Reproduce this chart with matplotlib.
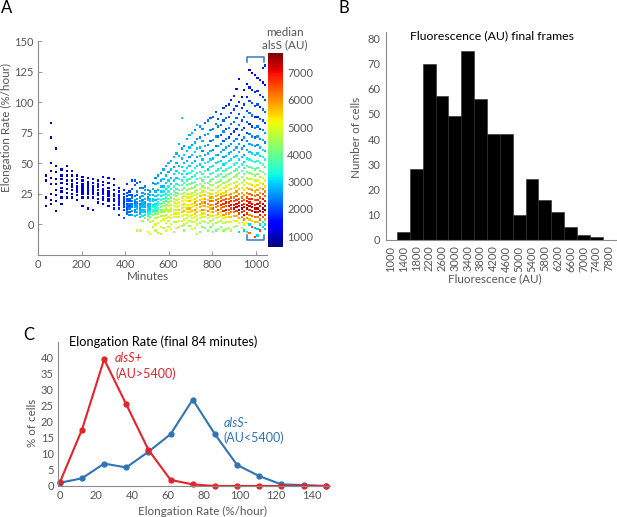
import numpy as np
import matplotlib
matplotlib.use("Agg")
import matplotlib.pyplot as plt

plt.rcParams['font.family'] = ['Lato', 'DejaVu Sans']

W, H = 617, 517
GRAY = '#555555'
SPINE = '#8a8a8a'
TICK_FS = 8.0
LAB_FS = 8.4

# ---- panel A: elongation rate per cell over time, coloured by median alsS (hundreds of AU)
col_minutes = [36, 60, 84, 108, 132, 156, 180, 204, 228, 252, 276, 300, 324, 348,
               372, 396, 408, 420, 432, 444, 456, 468, 480, 492, 504, 516, 528, 540,
               552, 564, 576, 588, 600, 612, 624, 636, 648, 660, 672, 684, 696, 708,
               720, 732, 744, 756, 768, 780, 792, 804, 816, 828, 840, 852, 864, 876,
               888, 900, 912, 924, 936, 948, 960, 972, 984, 996, 1008, 1020, 1032, 1044]
col_rates = [
    [40, 36, 22, 15],
    [83, 71, 50, 44, 38, 33, 25, 20, 17],
    [62, 48, 43, 37, 33, 28, 24, 19, 11],
    [45, 40, 37, 34, 30, 27, 22, 17],
    [48, 44, 40, 36, 33, 29, 26, 22],
    [44, 40, 36, 33, 31, 28, 25, 22],
    [40, 37, 34, 31, 29, 27, 24, 20],
    [39, 36, 33, 31, 29, 27, 25, 22, 15],
    [38, 35, 33, 31, 29, 27, 25, 22, 13],
    [37, 34, 31, 29, 27, 25, 22, 12],
    [36, 33, 31, 28, 26, 24, 21, 18],
    [39, 35, 32, 29, 27, 25, 22, 20, 17],
    [38, 34, 30, 27, 25, 23, 21, 19, 15],
    [37, 32, 28, 25, 23, 21, 19, 16, 13],
    [30, 27, 24, 22, 20, 18, 16, 13, 8],
    [28, 25, 22, 20, 18, 16, 14, 12, 5],
    [33, 26, 23, 21, 19, 17, 15, 13, 11, 9],
    [27, 24, 21, 19, 17, 15, 13, 10, 8],
    [36, 29, 24, 22, 19, 17, 16, 14, 11, 8],
    [36, 32, 23, 20, 18, 16, 14, 12, 10, 7],
    [34, 27, 24, 21, 18, 16, 15, 13, 10, 8, -5],
    [35, 30, 22, 19, 17, 15, 13, 11, 9, 6, -5],
    [30, 26, 23, 20, 18, 16, 14, 12, 10, 7, 3],
    [31, 28, 25, 21, 18, 16, 14, 12, 10, 8, 5],
    [28, 25, 22, 20, 17, 15, 13, 11, 9, 7, 4, -6],
    [27, 24, 21, 19, 17, 15, 13, 11, 9, 6, 2, -8],
    [34, 29, 24, 21, 19, 16, 14, 12, 10, 8, 3, -2],
    [38, 33, 27, 23, 20, 17, 15, 13, 11, 9, 5, 0, -5],
    [40, 34, 28, 24, 21, 18, 16, 13, 11, 9, 6, 1, -7],
    [42, 36, 31, 27, 23, 20, 17, 14, 12, 10, 7, 3, -2, -8],
    [45, 37, 31, 27, 24, 21, 18, 15, 12, 10, 7, 4, -3],
    [48, 40, 34, 29, 25, 22, 19, 16, 13, 11, 8, 5, 1, -5],
    [50, 43, 36, 31, 27, 24, 21, 18, 15, 12, 10, 6, 3, -2],
    [52, 45, 38, 33, 29, 25, 22, 19, 16, 13, 11, 8, 5, 0, -4],
    [55, 47, 41, 36, 31, 27, 24, 21, 18, 15, 12, 9, 6, 2, -6],
    [58, 50, 44, 38, 33, 29, 26, 23, 20, 17, 14, 12, 9, 6, 2, -3],
    [66, 56, 48, 42, 37, 32, 28, 25, 21, 18, 15, 12, 9, 6, 3, -2],
    [87, 62, 54, 47, 41, 36, 32, 28, 25, 22, 19, 16, 13, 10, 7, 3, -1],
    [64, 57, 50, 44, 39, 34, 30, 26, 23, 20, 17, 14, 11, 8, 4, 0, -5],
    [70, 60, 52, 46, 41, 36, 32, 28, 25, 22, 19, 16, 13, 10, 8, 5, 1],
    [73, 63, 55, 48, 42, 37, 33, 29, 25, 22, 19, 16, 13, 10, 7, 3, -1],
    [75, 65, 57, 50, 44, 39, 34, 30, 26, 23, 20, 17, 14, 11, 8, 5, 2, -4],
    [77, 67, 59, 52, 46, 40, 35, 31, 27, 24, 21, 18, 15, 12, 9, 6, 2, -3],
    [81, 70, 62, 55, 48, 42, 37, 32, 28, 25, 22, 19, 16, 13, 10, 7, 4, 0, -8],
    [80, 71, 63, 56, 49, 43, 38, 33, 29, 26, 23, 20, 17, 14, 11, 8, 5, 1, -6],
    [78, 68, 60, 53, 47, 41, 36, 31, 27, 24, 21, 18, 15, 12, 9, 6, 3, -2],
    [83, 73, 64, 57, 50, 44, 39, 34, 30, 27, 24, 21, 18, 15, 12, 9, 6, 2, -3],
    [85, 74, 65, 58, 51, 45, 39, 34, 30, 26, 23, 20, 17, 14, 11, 8, 5, 1, -5],
    [87, 77, 68, 60, 53, 47, 41, 36, 32, 28, 25, 22, 19, 16, 13, 10, 7, 3, -2],
    [88, 78, 69, 61, 54, 48, 42, 37, 32, 28, 25, 22, 19, 16, 13, 10, 7, 4, 0, -6],
    [92, 82, 72, 64, 57, 50, 44, 39, 34, 30, 26, 23, 20, 17, 14, 11, 8, 5, 1, -5],
    [86, 80, 72, 64, 57, 51, 45, 40, 35, 31, 27, 24, 21, 18, 15, 12, 9, 6, 2, -4],
    [90, 81, 73, 66, 59, 52, 46, 41, 36, 32, 28, 25, 22, 19, 16, 13, 10, 7, 3, -2],
    [95, 85, 76, 68, 61, 55, 49, 44, 39, 34, 30, 26, 23, 20, 17, 14, 11, 8, 5, 1, -5],
    [97, 87, 78, 70, 63, 56, 50, 45, 40, 35, 31, 27, 24, 21, 18, 15, 12, 9, 6, 2, -4],
    [98, 88, 79, 71, 64, 58, 52, 46, 41, 36, 32, 28, 24, 21, 18, 15, 12, 9, 6, 2, -3],
    [102, 91, 82, 74, 66, 59, 53, 47, 42, 37, 33, 29, 25, 22, 19, 16, 13, 10, 6, 2, -5],
    [105, 94, 84, 76, 68, 61, 55, 49, 44, 39, 34, 30, 26, 22, 19, 16, 13, 10, 7, 3, -2],
    [111, 97, 87, 78, 70, 63, 56, 50, 45, 40, 35, 31, 27, 23, 20, 17, 14, 11, 7, 3, -1],
    [119, 100, 90, 81, 73, 66, 59, 53, 47, 42, 37, 33, 29, 25, 21, 18, 15, 12, 9, 5, 1, -6],
    [104, 95, 85, 77, 69, 62, 55, 49, 44, 39, 34, 30, 26, 22, 19, 16, 13, 10, 6, 2, -3],
    [110, 98, 88, 79, 71, 64, 57, 51, 46, 41, 36, 32, 28, 24, 20, 17, 14, 11, 8, 4, 0, -5],
    [115, 104, 93, 84, 75, 68, 61, 54, 48, 43, 38, 34, 30, 26, 22, 19, 16, 13, 9, 5, 1, -6],
    [126, 112, 101, 91, 82, 74, 66, 59, 53, 47, 42, 37, 33, 29, 25, 21, 18, 15, 12, 8, 4, 0, -7],
    [124, 110, 99, 89, 80, 72, 65, 58, 52, 46, 41, 37, 32, 28, 24, 21, 17, 14, 11, 7, 3, -2],
    [122, 108, 97, 88, 79, 71, 64, 57, 51, 45, 40, 36, 31, 27, 23, 20, 16, 13, 10, 6, 2, -3, -10],
    [120, 109, 98, 88, 80, 72, 65, 58, 52, 46, 41, 36, 32, 28, 24, 20, 17, 13, 10, 6, 2, -4, -9],
    [118, 106, 96, 86, 78, 70, 63, 56, 50, 44, 39, 34, 30, 26, 22, 18, 15, 11, 8, 4, 0, -5],
    [128, 116, 104, 94, 85, 77, 69, 61, 55, 49, 43, 38, 33, 29, 25, 21, 17, 13, 10, 6, 2, -2],
    [130, 114, 102, 92, 83, 75, 67, 60, 53, 47, 41, 36, 31, 27, 23, 19, 15, 12, 8, 4, 0, -4],
]
col_alsS = [
    [9, 9, 9, 9],
    [9, 9, 9, 9, 10, 9, 9, 10, 9],
    [9, 10, 9, 10, 9, 10, 9, 10, 9],
    [10, 10, 9, 10, 11, 10, 10, 9],
    [10, 11, 10, 10, 11, 10, 11, 10],
    [11, 10, 11, 10, 11, 11, 10, 11],
    [11, 11, 12, 11, 11, 12, 11, 11],
    [11, 12, 11, 12, 11, 12, 11, 12, 11],
    [12, 11, 12, 12, 13, 12, 12, 11, 12],
    [12, 13, 12, 12, 13, 12, 13, 12],
    [12, 13, 13, 12, 13, 13, 12, 13],
    [13, 13, 14, 13, 13, 14, 13, 14, 13],
    [13, 14, 14, 13, 14, 15, 14, 14, 13],
    [14, 15, 14, 15, 16, 15, 14, 15, 16],
    [15, 16, 17, 16, 18, 17, 16, 18, 17],
    [17, 18, 19, 20, 18, 21, 19, 20, 22],
    [18, 20, 19, 21, 22, 20, 23, 21, 24, 22],
    [19, 21, 22, 20, 23, 21, 24, 22, 25],
    [20, 22, 21, 23, 24, 22, 25, 24, 26, 27],
    [21, 22, 24, 26, 23, 25, 27, 24, 26, 28],
    [22, 24, 23, 26, 25, 27, 26, 28, 27, 29, 48],
    [22, 24, 25, 27, 24, 28, 26, 29, 27, 30, 46],
    [24, 26, 27, 25, 28, 27, 29, 28, 30, 32, 45],
    [24, 26, 27, 28, 26, 29, 27, 30, 28, 31, 44],
    [26, 27, 25, 28, 29, 28, 30, 31, 33, 38, 45, 50],
    [26, 27, 28, 29, 27, 30, 28, 31, 33, 40, 46, 50],
    [25, 27, 28, 29, 30, 31, 33, 35, 38, 43, 48, 46],
    [25, 27, 28, 30, 29, 31, 33, 35, 32, 42, 47, 50, 48],
    [26, 28, 27, 30, 31, 33, 37, 40, 44, 46, 48, 50, 45],
    [26, 27, 29, 30, 31, 33, 36, 40, 38, 44, 47, 49, 51, 48],
    [27, 29, 28, 31, 33, 36, 40, 45, 47, 44, 49, 51, 47],
    [27, 28, 29, 31, 32, 35, 38, 43, 46, 48, 45, 50, 49, 52],
    [28, 27, 30, 32, 34, 38, 42, 46, 48, 45, 50, 52, 48, 46],
    [27, 29, 28, 30, 33, 36, 40, 44, 47, 49, 46, 51, 48, 50, 53],
    [29, 27, 31, 30, 35, 39, 43, 47, 49, 52, 48, 53, 50, 46, 44],
    [28, 27, 30, 29, 32, 35, 38, 43, 46, 49, 51, 48, 53, 50, 47, 52],
    [27, 29, 28, 32, 34, 37, 41, 46, 50, 53, 49, 55, 51, 48, 50, 46],
    [30, 26, 28, 30, 31, 33, 37, 41, 45, 48, 50, 53, 49, 55, 51, 48, 46],
    [26, 30, 28, 31, 33, 36, 40, 45, 48, 52, 55, 50, 57, 52, 49, 46, 43],
    [27, 29, 28, 31, 30, 34, 39, 42, 46, 49, 52, 50, 56, 53, 49, 47, 50],
    [27, 29, 26, 30, 34, 37, 42, 46, 50, 53, 56, 52, 58, 54, 50, 47, 45],
    [28, 26, 29, 30, 32, 31, 36, 40, 44, 48, 51, 54, 50, 57, 53, 49, 48, 52],
    [25, 28, 30, 27, 32, 35, 39, 44, 48, 52, 55, 58, 54, 60, 55, 51, 48, 46],
    [28, 25, 29, 27, 31, 33, 35, 41, 45, 47, 52, 55, 58, 53, 56, 50, 47, 49, 46],
    [26, 24, 28, 30, 31, 36, 40, 45, 49, 53, 57, 55, 61, 57, 53, 50, 47, 44, 42],
    [26, 28, 25, 29, 30, 34, 37, 42, 46, 50, 53, 57, 55, 60, 54, 51, 48, 45],
    [23, 26, 28, 27, 32, 34, 38, 43, 47, 52, 56, 59, 62, 58, 55, 51, 48, 45, 43],
    [24, 27, 26, 28, 31, 29, 36, 40, 44, 48, 52, 56, 59, 55, 61, 57, 50, 47, 44],
    [22, 25, 23, 28, 30, 33, 37, 42, 46, 50, 55, 59, 63, 60, 57, 52, 48, 45, 41],
    [22, 25, 27, 24, 29, 31, 34, 38, 43, 47, 51, 55, 60, 58, 63, 59, 54, 49, 46, 42],
    [21, 24, 26, 23, 29, 31, 35, 39, 44, 49, 53, 58, 62, 65, 61, 56, 52, 48, 44, 40],
    [20, 24, 22, 27, 25, 30, 33, 37, 41, 46, 50, 56, 61, 64, 60, 66, 57, 52, 48, 44],
    [20, 23, 21, 26, 28, 30, 34, 38, 43, 48, 52, 57, 62, 66, 68, 60, 55, 50, 46, 42],
    [19, 22, 25, 21, 27, 26, 31, 35, 40, 45, 49, 54, 58, 63, 67, 62, 68, 59, 53, 48, 45],
    [18, 22, 20, 25, 27, 29, 32, 37, 42, 47, 51, 56, 61, 65, 69, 64, 70, 58, 52, 47, 43],
    [18, 21, 24, 20, 26, 28, 30, 34, 39, 43, 48, 53, 57, 62, 66, 70, 64, 60, 55, 50, 46],
    [17, 20, 23, 19, 26, 28, 31, 35, 40, 45, 50, 55, 60, 64, 68, 71, 66, 61, 55, 49, 44],
    [17, 20, 23, 19, 25, 27, 29, 33, 38, 42, 47, 52, 56, 61, 65, 69, 72, 63, 58, 52, 47],
    [16, 19, 22, 18, 25, 27, 30, 34, 39, 44, 49, 54, 59, 63, 67, 70, 73, 65, 57, 50, 46],
    [15, 18, 21, 24, 19, 26, 28, 31, 36, 41, 46, 51, 55, 60, 64, 68, 71, 74, 66, 58, 50, 30],
    [15, 18, 21, 23, 20, 26, 29, 33, 38, 43, 48, 53, 58, 62, 66, 70, 74, 68, 60, 52, 48],
    [16, 19, 22, 18, 25, 23, 27, 30, 35, 40, 45, 49, 54, 59, 63, 67, 70, 66, 72, 61, 53, 29],
    [15, 17, 20, 22, 19, 25, 28, 32, 37, 42, 46, 51, 56, 61, 65, 69, 72, 75, 67, 59, 52, 32],
    [14, 17, 20, 23, 18, 24, 27, 29, 34, 39, 43, 48, 53, 58, 62, 66, 69, 73, 68, 60, 55, 30, 62],
    [14, 17, 20, 23, 19, 24, 27, 31, 36, 41, 45, 50, 55, 60, 64, 68, 71, 74, 70, 62, 55, 65],
    [15, 18, 21, 17, 24, 22, 26, 30, 33, 38, 42, 47, 52, 57, 61, 65, 68, 72, 75, 63, 57, 28, 66],
    [16, 18, 21, 17, 23, 26, 25, 30, 34, 39, 44, 49, 54, 58, 63, 67, 71, 74, 69, 61, 56, 29, 30],
    [16, 19, 17, 22, 20, 25, 28, 31, 35, 40, 44, 50, 55, 59, 64, 68, 71, 74, 70, 62, 30, 65],
    [17, 15, 19, 22, 20, 24, 27, 31, 35, 40, 45, 51, 56, 61, 65, 70, 74, 76, 72, 64, 32, 31],
    [18, 15, 20, 23, 19, 26, 24, 29, 33, 37, 43, 48, 54, 60, 63, 69, 73, 76, 67, 58, 31, 29],
]

# ---- panel B: histogram of final-frame fluorescence
fluor_bins = [1400, 1800, 2200, 2600, 3000, 3400, 3800, 4200,
              4600, 5000, 5400, 5800, 6200, 6600, 7000, 7400]
fluor_counts = [3, 28, 70, 57, 49, 75, 56, 42, 42, 10, 24, 16, 11, 5, 2, 1]
fluor_ticks = list(range(1000, 7801, 400))

# ---- panel C: elongation rate distribution, final 84 minutes
rate_bins = [0, 12.3, 24.6, 36.9, 49.2, 61.5, 73.8, 86.1, 98.4, 110.7, 123, 135.3, 148]
pct_alsS_pos = [1.1, 17.6, 39.6, 25.5, 11.3, 1.9, 0.5, 0, 0, 0, 0, 0, 0]
pct_alsS_neg = [1.0, 2.4, 7.0, 5.8, 10.7, 16.2, 27.0, 16.2, 6.6, 3.1, 0.5, 0.3, 0]


def frac(x, y):
    return x / W, 1 - y / H


def style_axes(ax):
    for s in ('top', 'right'):
        ax.spines[s].set_visible(False)
    for s in ('left', 'bottom'):
        ax.spines[s].set_color(SPINE)
        ax.spines[s].set_linewidth(0.8)
    ax.tick_params(direction='in', length=3, width=0.6, color=SPINE,
                   labelcolor=GRAY, labelsize=TICK_FS, pad=3)


fig = plt.figure(figsize=(W / 100, H / 100), dpi=100)

# ---------------- A
axA = fig.add_axes([38 / W, 1 - 255 / H, 229 / W, 214 / H])
xs, ys, cs = [], [], []
for t, rates, au in zip(col_minutes, col_rates, col_alsS):
    xs += [t] * len(rates)
    ys += rates
    cs += [a * 100 for a in au]
sc = axA.scatter(xs, ys, c=cs, cmap='jet', vmin=600, vmax=7720, marker='s',
                 s=2.6, linewidths=0)
axA.set_xlim(0, 1052)
axA.set_ylim(-25, 150)
axA.set_xticks(range(0, 1001, 200))
axA.set_yticks(range(0, 151, 25))
style_axes(axA)

# bracket marking the final frames
bc = '#3b78b6'
axA.plot([962, 962, 1040, 1040], [133, 137, 137, 133], color=bc, lw=1.1, clip_on=False)
axA.plot([962, 962, 1040, 1040], [-9, -13, -13, -9], color=bc, lw=1.1, clip_on=False)

cax = fig.add_axes([268 / W, 1 - 247 / H, 15 / W, 194 / H])
cb = fig.colorbar(sc, cax=cax)
cb.set_ticks(range(1000, 7001, 1000))
cb.outline.set_visible(False)
cax.tick_params(length=0, labelcolor=GRAY, labelsize=TICK_FS, pad=3)

fig.text(*frac(285, 32), 'median', ha='center', va='center', fontsize=LAB_FS, color=GRAY)
fig.text(*frac(285, 45), 'alsS (AU)', ha='center', va='center', fontsize=LAB_FS, color=GRAY)
fig.text(*frac(148, 276), 'Minutes', ha='center', va='center', fontsize=LAB_FS, color=GRAY)
fig.text(*frac(6, 127), 'Elongation Rate (%/hour)', ha='center', va='center',
         rotation=90, fontsize=LAB_FS, color=GRAY)
fig.text(*frac(1, 8), 'A', ha='left', va='center', fontsize=12)

# ---------------- B
axB = fig.add_axes([386 / W, 1 - 240 / H, (W - 387) / W, 208 / H])
axB.bar(fluor_bins, fluor_counts, width=400, color='black', edgecolor='#2a2a2a',
        linewidth=0.4)
axB.set_xlim(860, 8010)
axB.set_ylim(0, 82.5)
axB.set_xticks(fluor_ticks)
axB.set_xticklabels([str(v) for v in fluor_ticks], rotation=90)
axB.set_yticks(range(0, 81, 10))
style_axes(axB)
axB.tick_params(axis='x', length=0, pad=4)
axB.tick_params(axis='y', length=0, pad=4)

fig.text(*frac(492, 36), 'Fluorescence (AU) final frames', ha='center', va='center',
         fontsize=8.8, color='black')
fig.text(*frac(495, 279), 'Fluorescence (AU)', ha='center', va='center',
         fontsize=LAB_FS, color=GRAY)
fig.text(*frac(357, 137), 'Number of cells', ha='center', va='center',
         rotation=90, fontsize=LAB_FS, color=GRAY)
fig.text(*frac(338, 8), 'B', ha='left', va='center', fontsize=12)

# ---------------- C
red = '#e3242b'
blue = '#2f74b5'
axC = fig.add_axes([58 / W, 1 - 486 / H, 272 / W, 144 / H])
axC.plot(rate_bins, pct_alsS_neg, '-o', color=blue, lw=1.5, ms=3.5, clip_on=False)
axC.plot(rate_bins, pct_alsS_pos, '-o', color=red, lw=1.5, ms=3.5, clip_on=False)
axC.set_xlim(-1, 150)
axC.set_ylim(0, 45)
axC.set_xticks(range(0, 141, 20))
axC.set_yticks(range(0, 41, 5))
style_axes(axC)
axC.tick_params(length=0)

fig.text(*frac(69, 342), 'Elongation Rate (final 84 minutes)', ha='left', va='center',
         fontsize=9.2, color='black')
fig.text(*frac(115, 358), 'alsS+', ha='left', va='center', fontsize=9, color=red,
         style='italic')
fig.text(*frac(115, 374), '(AU>5400)', ha='left', va='center', fontsize=9, color=red)
fig.text(*frac(224, 423), 'alsS-', ha='left', va='center', fontsize=9, color=blue,
         style='italic')
fig.text(*frac(224, 438), '(AU<5400)', ha='left', va='center', fontsize=9, color=blue)
fig.text(*frac(203, 511), 'Elongation Rate (%/hour)', ha='center', va='center',
         fontsize=LAB_FS, color=GRAY)
fig.text(*frac(32, 423), '% of cells', ha='center', va='center', rotation=90,
         fontsize=LAB_FS, color=GRAY)
fig.text(*frac(23, 335), 'C', ha='left', va='center', fontsize=12)

fig.savefig('out.png', dpi=100)
